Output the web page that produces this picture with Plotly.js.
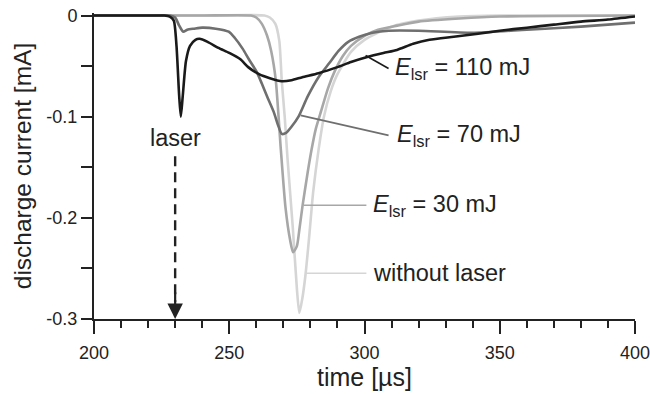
<!DOCTYPE html>
<html>
<head>
<meta charset="utf-8">
<script src="https://cdn.plot.ly/plotly-3.0.1.min.js"></script>
<style>html,body{margin:0;padding:0;background:#fff;}#chart{width:650px;height:394px;}</style>
</head>
<body>
<div id="chart"></div>
<script>
// time [µs] and discharge current [mA] for each series
const t110 = [200, 210, 220, 226, 228, 229.5, 230.5, 231.5, 232.1, 232.8, 234, 235.5, 237.5, 239, 242, 246, 250, 254, 257, 261, 265, 269.4, 273, 277, 283, 290, 295, 301, 307, 312, 318, 324, 333, 342, 350, 360, 370, 380, 390, 400];
const i110 = [0, 0, 0, 0, -0.001, -0.005, -0.03, -0.08, -0.1, -0.08, -0.045, -0.03, -0.024, -0.023, -0.026, -0.032, -0.037, -0.043, -0.051, -0.058, -0.062, -0.065, -0.064, -0.061, -0.057, -0.051, -0.046, -0.041, -0.037, -0.034, -0.028, -0.024, -0.021, -0.018, -0.015, -0.012, -0.009, -0.006, -0.004, -0.001];

const t70 = [200, 210, 220, 228, 230, 231.5, 233, 234.5, 237, 240, 245, 249.8, 252, 255, 257.2, 260, 262, 264, 266.4, 268, 269.4, 271, 273, 275.6, 279, 283, 287, 290.4, 294, 298, 303, 309, 320, 340, 360, 380, 400];
const i70 = [0, 0, 0, 0, -0.002, -0.01, -0.016, -0.014, -0.013, -0.012, -0.013, -0.016, -0.022, -0.033, -0.043, -0.055, -0.067, -0.08, -0.095, -0.108, -0.117, -0.116, -0.11, -0.1, -0.08, -0.061, -0.047, -0.035, -0.026, -0.021, -0.017, -0.015, -0.015, -0.017, -0.014, -0.011, -0.007];

const t30 = [200, 220, 240, 258, 260, 262, 264, 265.5, 267.2, 269, 270.8, 272.5, 273.6, 275, 276, 277.1, 279, 280.4, 282, 284, 286.5, 289, 292, 295, 300, 305, 312, 320, 335, 350, 400];
const i30 = [0, 0, 0, 0, -0.002, -0.008, -0.02, -0.035, -0.064, -0.13, -0.19, -0.222, -0.234, -0.228, -0.21, -0.188, -0.155, -0.133, -0.112, -0.094, -0.072, -0.055, -0.04, -0.03, -0.02, -0.014, -0.01, -0.006, -0.003, -0.001, 0];

const t0 = [200, 220, 240, 263, 265, 267, 268.5, 269.4, 270.5, 271.5, 273.5, 275, 275.9, 277, 278.2, 279.5, 281, 283, 285, 287.5, 290, 295, 300, 310, 320, 335, 350, 400];
const i0 = [0, 0, 0, 0, -0.002, -0.008, -0.025, -0.064, -0.1, -0.14, -0.21, -0.27, -0.294, -0.28, -0.256, -0.22, -0.175, -0.133, -0.1, -0.075, -0.058, -0.036, -0.024, -0.011, -0.005, -0.001, 0, 0];

const xTicks = [200, 250, 300, 350, 400];
const yTicks = [0, -0.1, -0.2, -0.3];
const yTickText = ['0', '-0.1', '-0.2', '-0.3'];
const labels = ['<i>E</i><sub>lsr</sub> = 110 mJ', '<i>E</i><sub>lsr</sub> = 70 mJ', '<i>E</i><sub>lsr</sub> = 30 mJ', 'without laser'];
const laserTime = 230;

const cBlack = '#1a1a1a', cDark = '#6f6f6f', cMid = '#a7a7a7', cLight = '#d5d5d5';
const font = 'Liberation Sans, Arial, sans-serif';

const traces = [
  {x: t0, y: i0, mode: 'lines', line: {color: cLight, width: 2.6, shape: 'spline', smoothing: 0.6}},
  {x: t30, y: i30, mode: 'lines', line: {color: cMid, width: 2.6, shape: 'spline', smoothing: 0.6}},
  {x: t70, y: i70, mode: 'lines', line: {color: cDark, width: 2.6, shape: 'spline', smoothing: 0.6}},
  {x: t110, y: i110, mode: 'lines', line: {color: cBlack, width: 2.6, shape: 'spline', smoothing: 0.6}}
];

const tf = {family: font, size: 23.5, color: '#222'};
const layout = {
  width: 650, height: 394,
  margin: {l: 94, r: 15, t: 13, b: 75},
  showlegend: false,
  paper_bgcolor: '#fff', plot_bgcolor: '#fff',
  font: {family: font, color: '#222'},
  xaxis: {
    range: [200, 400], tickvals: xTicks, ticktext: xTicks.map(String),
    ticks: 'outside', ticklen: 13, tickwidth: 2, tickcolor: '#222',
    minor: {dtick: 10, tick0: 200, ticks: 'outside', ticklen: 7, tickwidth: 2, tickcolor: '#222', showgrid: false},
    showline: true, linecolor: '#222', linewidth: 2, showgrid: false, zeroline: false,
    ticklabeloverflow: 'allow', ticklabelstandoff: 3,
    tickfont: {family: font, size: 18, color: '#222'},
    title: {text: 'time [µs]', font: {family: font, size: 25, color: '#222'}, standoff: 4}
  },
  yaxis: {
    range: [-0.3, 0.0025], tickvals: yTicks, ticktext: yTickText,
    ticks: 'outside', ticklen: 11, tickwidth: 2, tickcolor: '#222',
    minor: {dtick: 0.05, tick0: 0, ticks: 'outside', ticklen: 11, tickwidth: 2, tickcolor: '#222', showgrid: false},
    showline: true, linecolor: '#222', linewidth: 2, showgrid: false, zeroline: false,
    tickfont: {family: font, size: 18, color: '#222'},
    title: {text: 'discharge current [mA]', font: {family: font, size: 24.5, color: '#222'}, standoff: 8}
  },
  shapes: [
    {type: 'line', xref: 'x', yref: 'y', x0: 300.4, y0: -0.0395, x1: 308.9, y1: -0.0523, line: {color: cBlack, width: 1.6}},
    {type: 'line', xref: 'x', yref: 'y', x0: 276.4, y0: -0.0987, x1: 308.9, y1: -0.1185, line: {color: cDark, width: 1.6}},
    {type: 'line', xref: 'x', yref: 'y', x0: 277.5, y0: -0.1876, x1: 300.7, y1: -0.1876, line: {color: cMid, width: 1.6}},
    {type: 'line', xref: 'x', yref: 'y', x0: 278.2, y0: -0.2547, x1: 300.7, y1: -0.2547, line: {color: cLight, width: 1.6}},
    {type: 'line', xref: 'x', yref: 'y', x0: laserTime, y0: -0.139, x1: laserTime, y1: -0.283, line: {color: '#222', width: 2.4, dash: '10px,6px'}}
  ],
  annotations: [
    {x: 310.5, y: -0.0523, xref: 'x', yref: 'y', text: labels[0], showarrow: false, xanchor: 'left', yanchor: 'middle', font: tf},
    {x: 311.3, y: -0.1185, xref: 'x', yref: 'y', text: labels[1], showarrow: false, xanchor: 'left', yanchor: 'middle', font: tf},
    {x: 302.5, y: -0.1876, xref: 'x', yref: 'y', text: labels[2], showarrow: false, xanchor: 'left', yanchor: 'middle', font: tf},
    {x: 302.5, y: -0.2547, xref: 'x', yref: 'y', text: labels[3], showarrow: false, xanchor: 'left', yanchor: 'middle', font: tf},
    {x: laserTime, y: -0.121, xref: 'x', yref: 'y', text: 'laser', showarrow: false, xanchor: 'center', yanchor: 'middle', font: tf},
    {x: laserTime, y: -0.3, xref: 'x', yref: 'y', ax: laserTime, ay: -0.272, axref: 'x', ayref: 'y', text: '', showarrow: true, arrowhead: 2, arrowsize: 1.4, arrowwidth: 2.2, arrowcolor: '#222', standoff: 0}
  ]
};

Plotly.newPlot('chart', traces, layout, {displayModeBar: false, staticPlot: true});
</script>
</body>
</html>
